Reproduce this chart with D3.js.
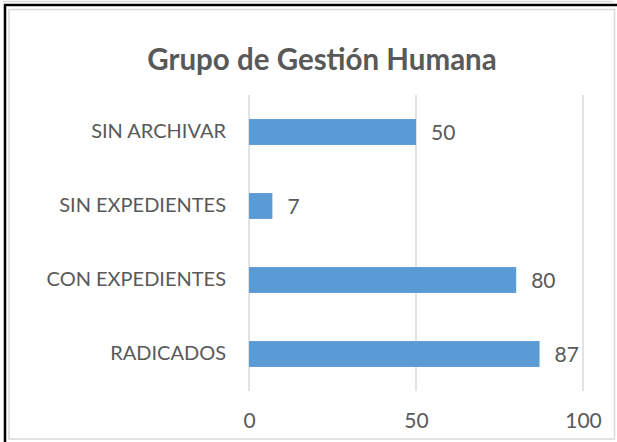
<!DOCTYPE html>
<html>
<head>
<meta charset="utf-8">
<script src="https://cdn.jsdelivr.net/npm/d3@7"></script>
<style>
  html, body { margin: 0; padding: 0; background: #fff; }
  svg { display: block; }
</style>
</head>
<body>
<div id="chart"></div>
<script>
// datos del gráfico
const categories = ['SIN ARCHIVAR', 'SIN EXPEDIENTES', 'CON EXPEDIENTES', 'RADICADOS']
const values = [50, 7, 80, 87]
const xTicks = [0, 50, 100]
const title = 'Grupo de Gestión Humana'

const width = 617
const height = 442
const margin = { top: 95, right: 34, bottom: 51, left: 249 }
const font = 'Lato, Carlito, Calibri, sans-serif'
const textColor = '#595959'

const svg = d3.select('#chart')
  .append('svg')
  .attr('width', width)
  .attr('height', height)
  .attr('viewBox', [0, 0, width, height])

// marcos
svg.append('line')
  .attr('x1', 3).attr('x2', 613).attr('y1', 1.5).attr('y2', 1.5)
  .attr('stroke', '#d9d9d9').attr('stroke-width', 1.5)
svg.append('path')
  .attr('d', `M5,${height} V5 H${width}`)
  .attr('fill', 'none')
  .attr('stroke', '#000')
  .attr('stroke-width', 2.5)
svg.append('rect')
  .attr('x', 9).attr('y', 9.5)
  .attr('width', 605.5).attr('height', 429.5)
  .attr('fill', 'none')
  .attr('stroke', '#d9d9d9')
  .attr('stroke-width', 1.5)

const x = d3.scaleLinear()
  .domain([0, 100])
  .range([margin.left, width - margin.right])

const y = d3.scaleBand()
  .domain(categories)
  .range([margin.top, height - margin.bottom])
  .paddingInner(0.65)
  .paddingOuter(0.325)

// título
svg.append('text')
  .attr('x', 322)
  .attr('y', 70)
  .attr('text-anchor', 'middle')
  .attr('font-family', font)
  .attr('font-weight', 'bold')
  .attr('font-size', 29.5)
  .attr('fill', textColor)
  .text(title)

// líneas de cuadrícula
svg.append('g')
  .selectAll('line')
  .data(xTicks)
  .join('line')
  .attr('x1', (d) => x(d))
  .attr('x2', (d) => x(d))
  .attr('y1', margin.top)
  .attr('y2', height - margin.bottom)
  .attr('stroke', '#d9d9d9')
  .attr('stroke-width', 1.5)

// barras
svg.append('g')
  .selectAll('rect')
  .data(values)
  .join('rect')
  .attr('x', x(0))
  .attr('y', (d, i) => y(categories[i]))
  .attr('width', (d) => x(d) - x(0))
  .attr('height', y.bandwidth())
  .attr('fill', '#5b9bd5')

// etiquetas de valores
svg.append('g')
  .selectAll('text')
  .data(values)
  .join('text')
  .attr('x', (d) => x(d) + 15)
  .attr('y', (d, i) => y(categories[i]) + y.bandwidth() / 2)
  .attr('dy', '0.38em')
  .attr('font-family', font)
  .attr('font-size', 21)
  .attr('fill', textColor)
  .text((d) => d)

// eje y
const yAxis = svg.append('g')
  .attr('transform', `translate(${margin.left},0)`)
  .call(d3.axisLeft(y).tickSize(0).tickPadding(23))
yAxis.select('.domain').remove()
yAxis.selectAll('text')
  .attr('font-family', font)
  .attr('font-size', 20)
  .attr('fill', textColor)

// eje x
const xAxis = svg.append('g')
  .attr('transform', `translate(0,${height - margin.bottom})`)
  .call(d3.axisBottom(x).tickValues(xTicks).tickSize(0).tickPadding(0))
xAxis.select('.domain').remove()
xAxis.selectAll('text')
  .attr('dy', null)
  .attr('y', 37)
  .attr('font-family', font)
  .attr('font-size', 21)
  .attr('fill', textColor)
</script>
</body>
</html>
